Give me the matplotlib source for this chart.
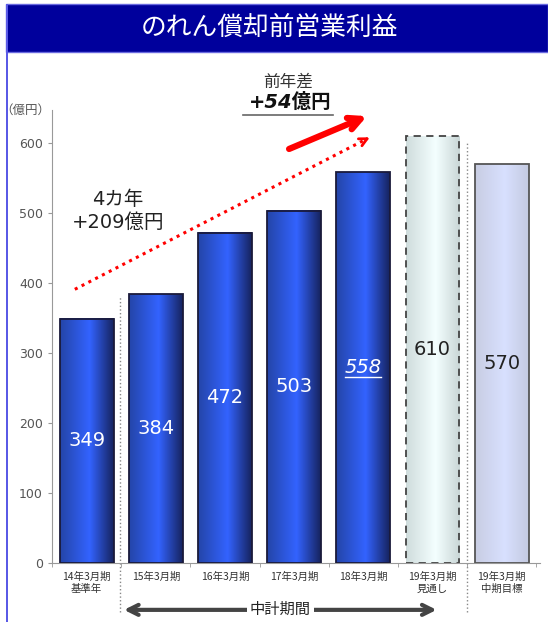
import numpy as np
import matplotlib
matplotlib.use("Agg")
import matplotlib.pyplot as plt
from matplotlib.patches import Rectangle
from matplotlib.colors import LinearSegmentedColormap

plt.rcParams['font.family'] = ['Noto Sans CJK JP', 'DejaVu Sans']

periods = ['14年3月期\n基準年', '15年3月期', '16年3月期', '17年3月期',
           '18年3月期', '19年3月期\n見通し', '19年3月期\n中期目標']
values = [349, 384, 472, 503, 558, 610, 570]
yticks = [0, 100, 200, 300, 400, 500, 600]

blue_cmap = LinearSegmentedColormap.from_list(
    'bar_blue', [(0, '#2445a8'), (0.55, '#3363ff'), (1, '#16235e')])
fcst_cmap = LinearSegmentedColormap.from_list(
    'bar_fcst', [(0, '#cfdcdc'), (0.55, '#f4ffff'), (1, '#c9d6d6')])
goal_cmap = LinearSegmentedColormap.from_list(
    'bar_goal', [(0, '#c8cde2'), (0.55, '#d8e0ff'), (1, '#c4cae0')])

fig = plt.figure(figsize=(5.48, 6.22), dpi=100)
ax = fig.add_axes([0.0949, 0.0949, 0.890, 0.728])

# header banner and left frame line
fig.patches.append(Rectangle((0.011, 0.916), 0.989, 0.078, transform=fig.transFigure,
                             facecolor='#00009c', edgecolor='#6a6ae0', lw=1))
fig.patches.append(Rectangle((0.011, 0.0), 0.003, 0.994, transform=fig.transFigure,
                             facecolor='#5a5ae6', edgecolor='none'))
fig.text(0.491, 0.955, 'のれん償却前営業利益', color='white', fontsize=18.5,
         ha='center', va='center')

grad = np.linspace(0, 1, 256).reshape(1, -1)
w = 0.39
for i, v in enumerate(values):
    if i == 5:
        cmap, ec, ls = fcst_cmap, '#444444', (0, (4, 3))
    elif i == 6:
        cmap, ec, ls = goal_cmap, '#555555', '-'
    else:
        cmap, ec, ls = blue_cmap, '#1a1a3a', '-'
    ax.imshow(grad, cmap=cmap, extent=[i - w, i + w, 0, v], aspect='auto', zorder=2)
    ax.add_patch(Rectangle((i - w, 0), 2 * w, v, facecolor='none', edgecolor=ec,
                           lw=1.3, linestyle=ls, zorder=3))
    if i < 4:
        ax.text(i, v / 2, str(v), color='white', fontsize=14, ha='center',
                va='center', family='DejaVu Sans', zorder=4)
    elif i == 4:
        ax.text(i, v / 2, str(v), color='white', fontsize=14, ha='center',
                va='center', family='DejaVu Sans', style='italic', zorder=4)
        ax.plot([i - 0.26, i + 0.26], [v / 2 - 13, v / 2 - 13], color='white',
                lw=1, zorder=4)
    else:
        ax.text(i, v / 2, str(v), color='#222222', fontsize=14, ha='center',
                va='center', family='DejaVu Sans', zorder=4)

ax.set_xlim(-0.5, 6.55)
ax.set_ylim(0, 647)

for s in ['top', 'right']:
    ax.spines[s].set_visible(False)
for s in ['left', 'bottom']:
    ax.spines[s].set_color('#999999')
ax.set_yticks(yticks)
ax.tick_params(axis='y', labelsize=9, labelcolor='#555555', color='#999999',
               length=3)
for lab in ax.get_yticklabels():
    lab.set_family('DejaVu Sans')
ax.set_xticks(range(len(periods)))
ax.set_xticklabels(periods, fontsize=7.5, color='#333333', linespacing=1.3, va='top')
ax.tick_params(axis='x', length=0, pad=6)
ax.set_xticks(np.arange(-0.5, 6.6, 1), minor=True)
ax.tick_params(axis='x', which='minor', length=3, color='#999999')

ax.text(-0.52, 647, '（億円）', fontsize=9, color='#555555', ha='right', va='center')

# mid-term plan separators
ax.plot([0.48, 0.48], [-70, 380], color='#888888', lw=1, ls=':', clip_on=False, zorder=1)
ax.plot([5.5, 5.5], [-70, 603], color='#888888', lw=1, ls=':', clip_on=False, zorder=1)
ax.annotate('', xy=(0.5, -67), xytext=(5.1, -67), annotation_clip=False,
            arrowprops=dict(arrowstyle='<->', color='#444444', lw=3, mutation_scale=18))
ax.text(2.8, -67, '中計期間', fontsize=11, ha='center', va='center', color='#222222',
        bbox=dict(facecolor='white', edgecolor='none', pad=2))

# growth arrows
ax.plot([-0.17, 4.05], [391, 606], color='red', lw=2.2, ls=(0, (1, 1.5)), zorder=5)
ax.annotate('', xy=(4.13, 610), xytext=(4.0, 603.4),
            arrowprops=dict(arrowstyle='->', color='red', lw=2, mutation_scale=14))
ax.annotate('', xy=(4.09, 640), xytext=(2.89, 590), annotation_clip=False,
            arrowprops=dict(arrowstyle='->', color='red', lw=4.5, mutation_scale=22))

ax.text(0.45, 503, '4カ年\n+209億円', fontsize=14, ha='center', va='center',
        color='#222222', linespacing=1.25, family=['DejaVu Sans', 'Noto Sans CJK JP'])
fig.text(0.525, 0.868, '前年差', fontsize=12, ha='center', va='center',
         color='#333333', style='italic')
fig.text(0.53, 0.835, '+54億円', fontsize=14, ha='center', va='center',
         color='#111111', style='italic', weight='bold',
         family=['DejaVu Sans', 'Noto Sans CJK JP'])
fig.lines.append(plt.Line2D([0.443, 0.607], [0.815, 0.815], transform=fig.transFigure,
                            color='#666666', lw=1.2))

fig.savefig('out.png', dpi=100)
